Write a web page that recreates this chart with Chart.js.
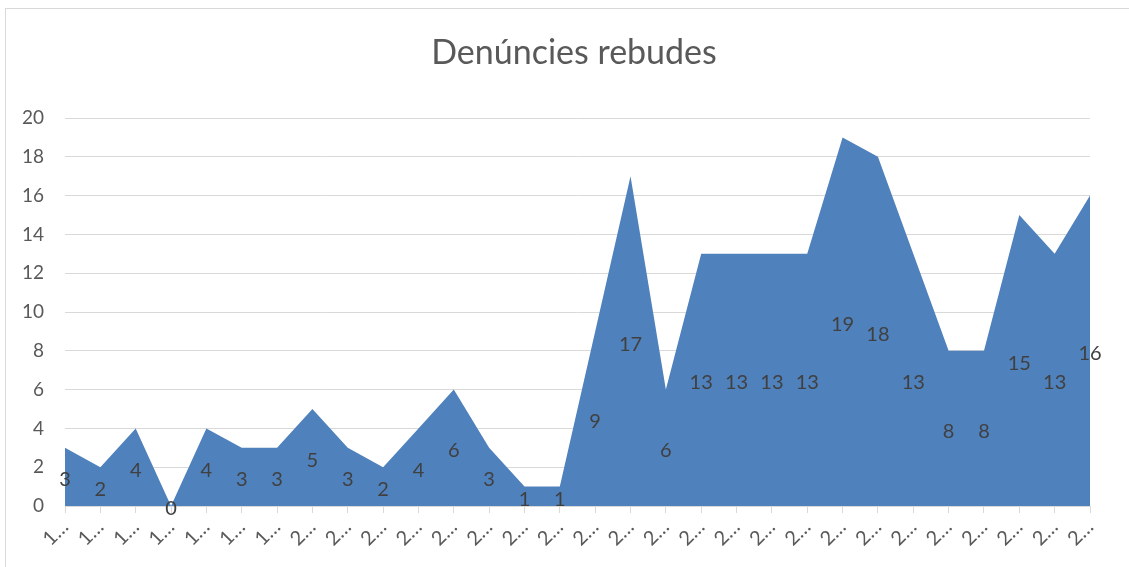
<!DOCTYPE html>
<html>
<head>
<meta charset="utf-8">
<script src="https://cdn.jsdelivr.net/npm/chart.js@4"></script>
<style>
  body { margin: 0; background: #fff; }
  #wrap { position: relative; width: 1129px; height: 567px; overflow: hidden; }
  #frame { position: absolute; left: 5px; top: 8px; width: 1200px; height: 600px; border: 1px solid #d9d9d9; }
  canvas { position: absolute; left: 0; top: 0; }
</style>
</head>
<body>
<div id="wrap">
  <div id="frame"></div>
  <canvas id="chart" width="1129" height="567"></canvas>
</div>
<script>
const title = 'Denúncies rebudes';
const labels = ['1…','1…','1…','1…','1…','1…','1…','2…','2…','2…','2…','2…','2…','2…','2…',
  '2…','2…','2…','2…','2…','2…','2…','2…','2…','2…','2…','2…','2…','2…','2…'];
const values = [3,2,4,0,4,3,3,5,3,2,4,6,3,1,1,9,17,6,13,13,13,13,19,18,13,8,8,15,13,16];
const yTicks = [0,2,4,6,8,10,12,14,16,18,20];

const FONT = 'Lato, "Open Sans", sans-serif';

// value labels sit halfway up the area, like Excel's "center" position
const centerLabels = {
  id: 'centerLabels',
  afterDatasetsDraw(chart) {
    const ctx = chart.ctx;
    const meta = chart.getDatasetMeta(0);
    const y = chart.scales.y;
    ctx.save();
    ctx.font = '20px ' + FONT;
    ctx.fillStyle = '#404040';
    ctx.textAlign = 'center';
    ctx.textBaseline = 'middle';
    meta.data.forEach((pt, i) => {
      const v = values[i];
      ctx.fillText(String(v), pt.x, y.getPixelForValue(v / 2) + 3);
    });
    ctx.restore();
  }
};

// title centred on the whole frame rather than the padded layout box
const frameTitle = {
  id: 'frameTitle',
  afterDraw(chart) {
    const ctx = chart.ctx;
    ctx.save();
    ctx.font = '34px ' + FONT;
    ctx.fillStyle = '#595959';
    ctx.textAlign = 'center';
    ctx.textBaseline = 'middle';
    ctx.fillText(title, 574, 53);
    ctx.restore();
  }
};

const ctx = document.getElementById('chart').getContext('2d');
new Chart(ctx, {
  type: 'line',
  data: {
    labels,
    datasets: [{
      data: values,
      borderWidth: 0,
      borderColor: '#4f81bd',
      backgroundColor: '#4f81bd',
      fill: 'origin',
      tension: 0,
      pointRadius: 0
    }]
  },
  options: {
    responsive: false,
    animation: false,
    layout: { padding: { left: 5, right: 39, top: 118, bottom: 0 } },
    plugins: {
      legend: { display: false },
      tooltip: { enabled: false },
      title: { display: false }
    },
    scales: {
      x: {
        offset: false,
        grid: { display: true, drawOnChartArea: false, drawTicks: true, tickLength: 7, color: '#d9d9d9' },
        border: { display: true, color: '#d9d9d9', width: 1 },
        ticks: {
          autoSkip: false, minRotation: 45, maxRotation: 45, padding: 2,
          color: '#595959', font: { family: FONT, size: 20 }
        },
        afterFit(scale) { scale.height = 61; }
      },
      y: {
        min: 0, max: 20,
        afterBuildTicks(scale) { scale.ticks = yTicks.map(v => ({ value: v })); },
        grid: { color: '#d9d9d9', drawTicks: false },
        border: { display: false },
        ticks: { padding: 21, color: '#595959', font: { family: FONT, size: 19 } },
        afterFit(scale) { scale.width = 60; }
      }
    }
  },
  plugins: [centerLabels, frameTitle]
});
</script>
</body>
</html>
